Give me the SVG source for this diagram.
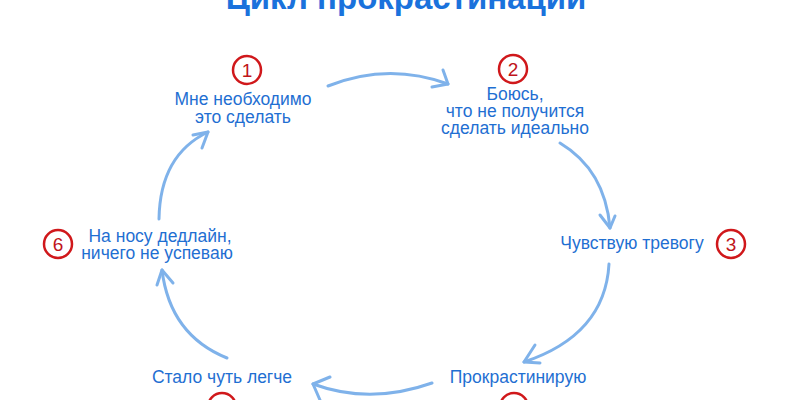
<svg xmlns="http://www.w3.org/2000/svg" width="790" height="400" viewBox="0 0 790 400">
<style>
.t{font-family:"Liberation Sans","Noto Sans",sans-serif;font-size:17.5px;fill:#1f6fd2;text-anchor:middle}
.title{font-family:"Liberation Sans","Noto Sans",sans-serif;font-size:33px;font-weight:bold;fill:#1a72dc;text-anchor:middle}
.c{fill:#fff;stroke:#d0181b;stroke-width:2.5}
.n{font-family:"Liberation Sans","Noto Sans",sans-serif;font-size:19px;fill:#c0141a;text-anchor:middle}
.a{fill:none;stroke:#7fb2ea;stroke-width:3;stroke-linecap:round;stroke-linejoin:round}
</style>
<rect width="790" height="400" fill="#fff"/>
<text class="title" x="406" y="9">Цикл прокрастинации</text>
<g id="connectors">
<path class="a" d="M328 86 Q388 62 448 84"/>
<path class="a" d="M443 70 L448 84 L432 87"/>
<path class="a" d="M560 143 Q605 170 610 228"/>
<path class="a" d="M600 215 L610 228 L615 216"/>
<path class="a" d="M609 264 Q605 335 524 362"/>
<path class="a" d="M535 345 L524 362 L540 363"/>
<path class="a" d="M432 383 Q370 405 313 384"/>
<path class="a" d="M330 377 L313 384 L320 400"/>
<path class="a" d="M227 358 Q170 335 162 270"/>
<path class="a" d="M157 285 L162 270 L173 283"/>
<path class="a" d="M159 219 Q160 155 208 132"/>
<path class="a" d="M193 135 L208 132 L202 148"/>
</g>
<g id="node1">
<circle class="c" cx="247" cy="70" r="14"/>
<text class="n" x="247" y="77">1</text>
<text class="t" x="243" y="105">Мне необходимо</text>
<text class="t" x="243" y="123">это сделать</text>
</g>
<g id="node2">
<circle class="c" cx="513" cy="69" r="14"/>
<text class="n" x="513" y="76">2</text>
<text class="t" x="515" y="100">Боюсь,</text>
<text class="t" x="515" y="117">что не получится</text>
<text class="t" x="515" y="134">сделать идеально</text>
</g>
<g id="node3">
<text class="t" x="632" y="249">Чувствую тревогу</text>
<circle class="c" cx="731" cy="244" r="14"/>
<text class="n" x="731" y="251">3</text>
</g>
<g id="node4">
<text class="t" x="518" y="383">Прокрастинирую</text>
<circle class="c" cx="514" cy="407" r="14"/>
<text class="n" x="514" y="414">4</text>
</g>
<g id="node5">
<text class="t" x="222" y="383">Стало чуть легче</text>
<circle class="c" cx="222" cy="407" r="14"/>
<text class="n" x="222" y="414">5</text>
</g>
<g id="node6">
<circle class="c" cx="58" cy="244" r="14"/>
<text class="n" x="58" y="251">6</text>
<text class="t" x="160" y="242">На носу дедлайн,</text>
<text class="t" x="157" y="259">ничего не успеваю</text>
</g>
</svg>
